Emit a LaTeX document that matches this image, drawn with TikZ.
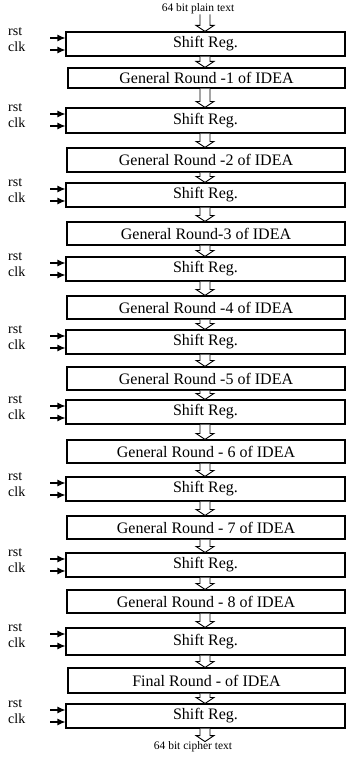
\documentclass[tikz,border=0pt]{standalone}
\usepackage{fontspec}
\setmainfont{Liberation Serif}
\usetikzlibrary{calc,arrows.meta}
\tikzset{
 blk/.style={draw, line width=1.1pt, inner sep=0pt, fill=white, font=\fontsize{16}{18}\selectfont},
 sig/.style={font=\fontsize{14}{16}\selectfont, inner sep=0pt},
 io/.style={font=\fontsize{11.5}{13}\selectfont, inner sep=0pt},
 ctl/.style={-{Latex[length=8pt,width=7pt]}, line width=1.1pt},
 pipe/.style={draw, line width=0.9pt, fill=white}
}
\newcommand\mkbox[5]{%
 \node[blk, minimum width={(345-#2)*1pt}, minimum height={(#4-#3)*1pt}] (#1) at ({(#2+345)/2},{(#3+#4)/2}) {#5};}
\newcommand\mkreg[3]{%
 \mkbox{#1}{66}{#2}{#3}{Shift Reg.}
 \node[sig, anchor=west] (#1rst) at (8,{#2+0}) {rst};
 \node[sig, anchor=west] (#1clk) at (8,{#2+15}) {clk};
 \coordinate (#1a) at (50,{#2+6});
 \coordinate (#1b) at (50,{#2+18});
 \draw[ctl] (#1a) -- (#1a -| #1.west);
 \draw[ctl] (#1b) -- (#1b -| #1.west);}
\newcommand\mkpipe[2]{%
 \path[pipe] let \p1=(#1.south), \p2=(#2.north) in
  ({200pt},{\y1}) -- ({200pt},{\y2+6pt}) -- ({196pt},{\y2+6pt}) -- ({205pt},{\y2})
  -- ({214pt},{\y2+6pt}) -- ({210pt},{\y2+6pt}) -- ({210pt},{\y1});}
\begin{document}
\begin{tikzpicture}[x=1pt,y=-1pt]
\useasboundingbox (0,0) rectangle (347,760);
\node[io] (in) at (198,9) {64 bit plain text};
\mkreg{s1}{32}{56}
\mkbox{g1}{68}{68}{88}{General Round -1 of IDEA}
\mkreg{s2}{108}{133}
\mkbox{g2}{67}{148}{172}{General Round -2 of IDEA}
\mkreg{s3}{183}{207}
\mkbox{g3}{67}{222}{245}{General Round-3 of IDEA}
\mkreg{s4}{257}{281}
\mkbox{g4}{67}{296}{319}{General Round -4 of IDEA}
\mkreg{s5}{330}{354}
\mkbox{g5}{67}{367}{390}{General Round -5 of IDEA}
\mkreg{s6}{400}{424}
\mkbox{g6}{67}{440}{463}{General Round - 6 of IDEA}
\mkreg{s7}{477}{501}
\mkbox{g7}{67}{516}{539}{General Round - 7 of IDEA}
\mkreg{s8}{553}{577}
\mkbox{g8}{67}{590}{613}{General Round - 8 of IDEA}
\mkreg{s9}{628}{655}
\mkbox{fr}{68}{668}{693}{Final Round - of IDEA}
\mkreg{s10}{704}{728}
\node[io] (out) at (193,747) {64 bit cipher text};
\mkpipe{in}{s1}
\mkpipe{s1}{g1}
\mkpipe{g1}{s2}
\mkpipe{s2}{g2}
\mkpipe{g2}{s3}
\mkpipe{s3}{g3}
\mkpipe{g3}{s4}
\mkpipe{s4}{g4}
\mkpipe{g4}{s5}
\mkpipe{s5}{g5}
\mkpipe{g5}{s6}
\mkpipe{s6}{g6}
\mkpipe{g6}{s7}
\mkpipe{s7}{g7}
\mkpipe{g7}{s8}
\mkpipe{s8}{g8}
\mkpipe{g8}{s9}
\mkpipe{s9}{fr}
\mkpipe{fr}{s10}
\mkpipe{s10}{out}
\end{tikzpicture}
\end{document}
